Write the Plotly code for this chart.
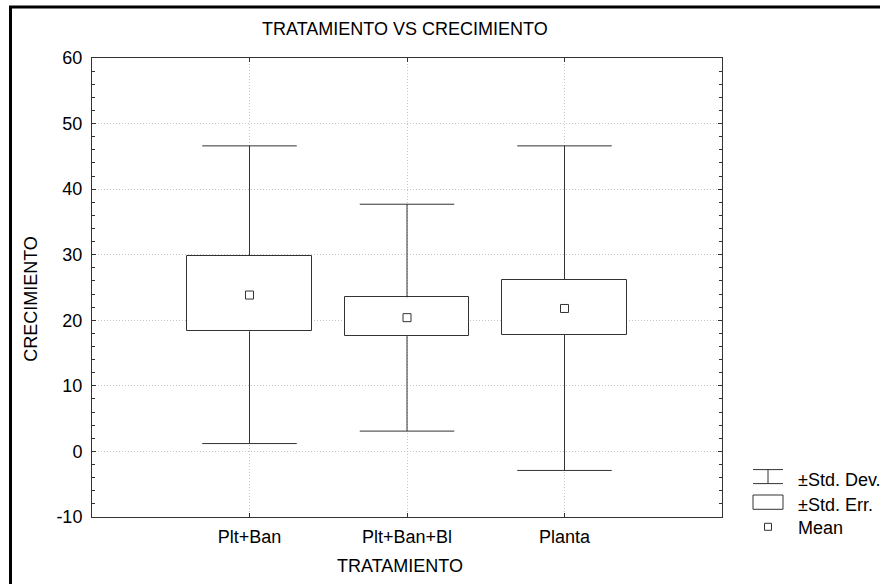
import plotly.graph_objects as go

# ---- data ----
categories = ["Plt+Ban", "Plt+Ban+Bl", "Planta"]
mean_vals = [23.85, 20.4, 21.8]
se_low = [18.3, 17.6, 17.75]
se_high = [29.8, 23.5, 26.2]
sd_low = [1.2, 3.1, -2.9]
sd_high = [46.6, 37.7, 46.6]
y_ticks = [-10, 0, 10, 20, 30, 40, 50, 60]
y_tick_labels = ["-10", "0", "10", "20", "30", "40", "50", "60"]

legend_labels = ["\u00b1Std. Dev.", "\u00b1Std. Err.", "Mean"]

FONT = "Liberation Sans, Arial, sans-serif"
FS = 18
LINE = "#333333"
GRID = "#c4c4c4"

# plot area in pixels (for paper conversions of decorations)
L, R, T, B = 92, 722, 57.7, 516.7
W, H = 880, 584


def px(x):
    return (x - L) / (R - L)


def py(y):
    return (B - y) / (B - T)


xpos = list(range(len(categories)))
CAP = 0.30    # half cap width in category units
BOXW = 0.79   # box width in category units

fig = go.Figure()

# boxes (± std. err.)
fig.add_trace(go.Bar(
    x=xpos,
    base=se_low,
    y=[h - l for h, l in zip(se_high, se_low)],
    width=BOXW,
    marker=dict(color="white", line=dict(color=LINE, width=1)),
    hoverinfo="skip",
))

# whiskers (± std. dev.)
wx, wy = [], []
for i in xpos:
    wx += [i, i, None, i - CAP, i + CAP, None, i, i, None, i - CAP, i + CAP, None]
    wy += [se_high[i], sd_high[i], None, sd_high[i], sd_high[i], None,
           se_low[i], sd_low[i], None, sd_low[i], sd_low[i], None]
fig.add_trace(go.Scatter(
    x=wx, y=wy, mode="lines",
    line=dict(color=LINE, width=1),
    connectgaps=False, hoverinfo="skip",
))

# means
fig.add_trace(go.Scatter(
    x=xpos, y=mean_vals, mode="markers",
    marker=dict(symbol="square", size=8, color="white",
                line=dict(color=LINE, width=1)),
))

fig.update_layout(
    width=W, height=H,
    margin=dict(l=L, r=W - R, t=T, b=H - B, pad=0),
    paper_bgcolor="white", plot_bgcolor="white",
    showlegend=False,
    font=dict(family=FONT, size=FS, color="black"),
    bargap=0,
)

fig.update_xaxes(
    range=[-1, 3],
    tickmode="array", tickvals=xpos, ticktext=categories,
    showline=True, linecolor=LINE, linewidth=1, mirror="ticks",
    ticks="inside", ticklen=4, tickcolor=LINE,
    showgrid=True, gridcolor=GRID, griddash="1px,2px", gridwidth=1,
    zeroline=False, ticklabelstandoff=3,
    tickfont=dict(family=FONT, size=FS, color="black"),
)
fig.update_yaxes(
    range=[-10, 60],
    tickmode="array", tickvals=y_ticks, ticktext=y_tick_labels,
    showline=True, linecolor=LINE, linewidth=1, mirror="ticks",
    ticks="inside", ticklen=4, tickcolor=LINE,
    minor=dict(dtick=2, ticks="inside", ticklen=3, tickcolor=LINE, showgrid=False),
    showgrid=True, gridcolor=GRID, griddash="1px,2px", gridwidth=1,
    zeroline=False, ticklabelstandoff=5,
    tickfont=dict(family=FONT, size=FS, color="black"),
)

shapes = []
# outer frame
shapes.append(dict(type="rect", xref="paper", yref="paper",
                   x0=px(10.5), y0=py(6.8), x1=px(1000), y1=py(800),
                   line=dict(color="black", width=3)))
# legend: std dev symbol
for (x0, y0, x1, y1) in [(753, 469.3, 783, 469.3), (768, 469.3, 768, 483.3), (753, 483.3, 783, 483.3)]:
    shapes.append(dict(type="line", xref="paper", yref="paper",
                       x0=px(x0), y0=py(y0), x1=px(x1), y1=py(y1),
                       line=dict(color=LINE, width=1)))
# legend: std err box
shapes.append(dict(type="rect", xref="paper", yref="paper",
                   x0=px(753), y0=py(494.7), x1=px(783), y1=py(509),
                   line=dict(color=LINE, width=1), fillcolor="white"))
# legend: mean square
shapes.append(dict(type="rect", xref="paper", yref="paper",
                   x0=px(764.5), y0=py(523), x1=px(771.5), y1=py(530),
                   line=dict(color=LINE, width=1), fillcolor="white"))
fig.update_layout(shapes=shapes)

ann = []
ann.append(dict(text="TRATAMIENTO VS CRECIMIENTO", xref="paper", yref="paper",
                x=px(405), y=py(28.5), xanchor="center", yanchor="middle",
                showarrow=False, font=dict(size=FS)))
ann.append(dict(text="TRATAMIENTO", xref="paper", yref="paper",
                x=px(400), y=py(566), xanchor="center", yanchor="middle",
                showarrow=False, font=dict(size=FS)))
ann.append(dict(text="CRECIMIENTO", xref="paper", yref="paper",
                x=px(31), y=py(298.5), xanchor="center", yanchor="middle",
                textangle=-90, showarrow=False, font=dict(size=FS)))
for lab, yc in zip(legend_labels, [480.0, 505.0, 528.0]):
    ann.append(dict(text=lab, xref="paper", yref="paper",
                    x=px(796), y=py(yc), xanchor="left", yanchor="middle",
                    showarrow=False, font=dict(size=FS)))
fig.update_layout(annotations=ann)

fig.write_html("out.html",
               config={"displayModeBar": False},
               post_script="document.body.style.margin='0';document.body.style.padding='0';")
